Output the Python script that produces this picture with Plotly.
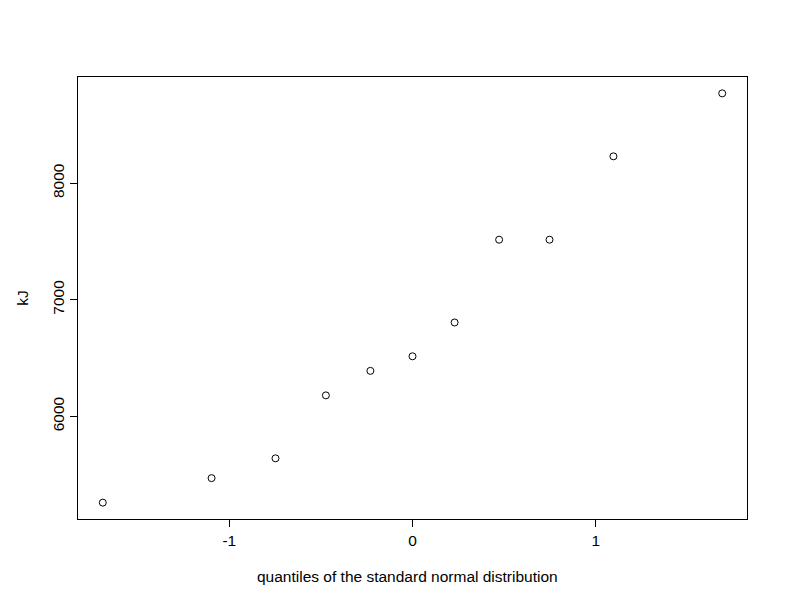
import plotly.graph_objects as go

# theoretical normal quantiles (n = 11)
quantiles = [-1.6906, -1.0968, -0.7479, -0.4728, -0.2299, 0.0, 0.2299, 0.4728, 0.7479, 1.0968, 1.6906]
kj = [5260, 5470, 5640, 6180, 6390, 6515, 6805, 7515, 7515, 8230, 8770]
x_ticks = [-1, 0, 1]
y_ticks = [6000, 7000, 8000]

font = "Liberation Sans, Arial, sans-serif"
fs = 15.5

fig = go.Figure(go.Scatter(
    x=quantiles, y=kj, mode="markers",
    marker=dict(symbol="circle-open", size=7, color="black", line=dict(width=1, color="black")),
    showlegend=False,
))

fig.update_layout(
    width=784, height=603,
    margin=dict(l=70, r=45, t=69, b=92),
    paper_bgcolor="white", plot_bgcolor="white",
    font=dict(family=font, size=fs, color="black"),
    xaxis=dict(range=[-1.8259, 1.8259], tickvals=x_ticks, ticktext=["-1", "0", "1"],
               showgrid=False, zeroline=False, showline=True, linecolor="black", linewidth=1,
               mirror=True, ticks="outside", ticklen=7, tickcolor="black", tickwidth=1,
               tickfont=dict(family=font, size=fs)),
    yaxis=dict(range=[5119.6, 8910.4], tickvals=y_ticks,
               showgrid=False, zeroline=False, showline=True, linecolor="black", linewidth=1,
               mirror=True, ticks="outside", ticklen=7, tickcolor="black", tickwidth=1,
               tickangle=-90, tickfont=dict(family=font, size=fs)),
    annotations=[
        dict(text="quantiles of the standard normal distribution", xref="paper", yref="paper",
             x=0.4925, y=-0.129, xanchor="center", yanchor="middle", showarrow=False,
             font=dict(family=font, size=fs)),
        dict(text="kJ", xref="paper", yref="paper", x=-0.084, y=0.5, textangle=-90,
             xanchor="center", yanchor="middle", showarrow=False,
             font=dict(family=font, size=fs)),
    ],
)

fig.write_html("out.html")
